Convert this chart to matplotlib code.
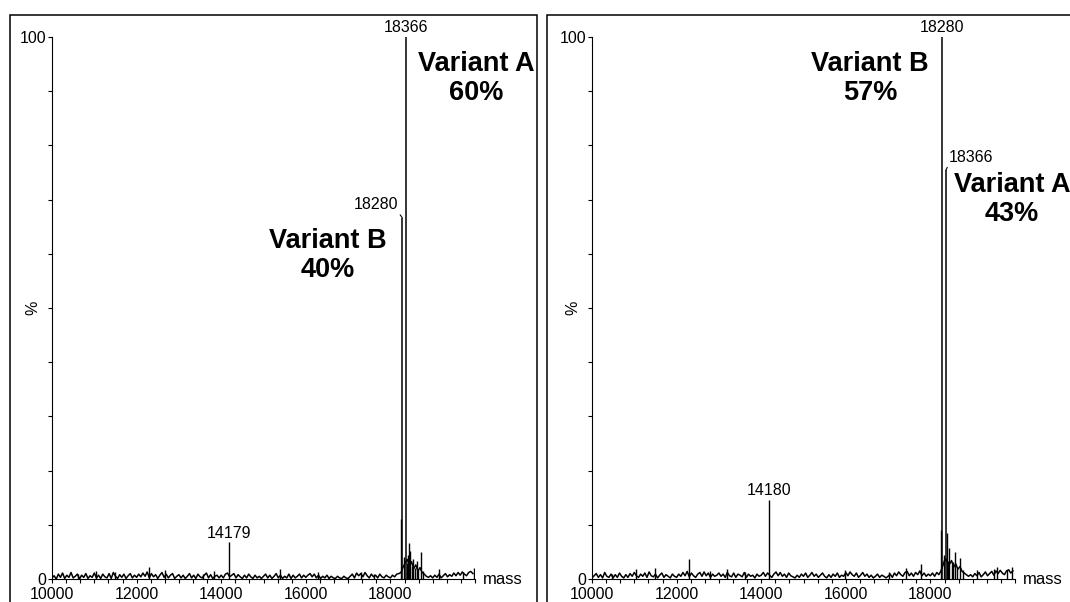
"""
Deconvoluted ESI-MS spectra of the two protein variant mixtures
"""

import matplotlib
matplotlib.use('Agg')
import matplotlib.pyplot as plt
import numpy as np
from matplotlib.patches import Rectangle
from matplotlib.ticker import MultipleLocator

plt.rcParams['font.family'] = ['Liberation Sans', 'DejaVu Sans']

# ---------------------------------------------------------------------------
# Data
# ---------------------------------------------------------------------------
mass_start, mass_step = 10000, 50          # baseline sampling (Da)

left_noise = [
    0.2, 0.6, 0.0, 0.9, 0.3, 1.1, 0.1, 0.7, 0.3, 1.2, 0.2, 0.5, 0.9, 0.0, 0.7, 0.3, 1.0, 0.1, 0.6, 0.3,
    1.1, 0.2, 0.7, 0.1, 0.9, 0.4, 0.2, 1.0, 0.1, 1.2, 0.5, 0.1, 0.8, 0.3, 0.9, 0.1, 0.6, 1.0, 0.2, 0.7,
    0.3, 0.9, 0.4, 1.1, 0.5, 1.3, 0.2, 1.0, 0.4, 0.8, 0.1, 0.7, 1.2, 0.3, 0.9, 0.2, 0.7, 1.0, 0.1, 0.5,
    0.8, 0.2, 0.7, 0.1, 0.5, 1.0, 0.2, 0.7, 0.1, 0.9, 0.4, 0.2, 0.7, 1.1, 0.2, 0.8, 0.1, 0.5, 0.7, 0.2,
    0.7, 0.2, 0.9, 1.1, 0.4, 0.7, 1.0, 0.2, 0.8, 0.4, 0.1, 0.7, 0.2, 0.9, 0.4, 0.1, 0.7, 0.2, 0.5, 0.1,
    0.5, 0.9, 0.2, 0.7, 0.1, 0.5, 1.0, 0.2, 0.7, 0.1, 0.5, 0.2, 0.9, 0.1, 0.7, 0.2, 0.5, 0.9, 0.2, 0.7,
    0.3, 0.7, 1.0, 0.4, 0.9, 0.2, 0.7, 0.1, 0.5, 0.2, 0.7, 0.1, 0.5, 0.2, 0.1, 0.5, 0.2, 0.1, 0.5, 0.2,
    0.1, 0.5, 0.9, 0.2, 1.1, 0.6, 1.0, 0.4, 1.2, 0.6, 0.2, 0.9, 0.4, 0.7, 0.2, 0.9, 0.4, 0.2, 0.7, 0.4,
    0.2, 0.7, 0.4, 0.9, 1.0, 1.2, 2.2, 3.0, 3.6, 2.4, 3.2, 1.9, 2.6, 1.5, 2.1, 1.2, 0.9, 0.5, 0.3, 0.6,
    0.2, 0.7, 0.3, 0.9, 0.2, 0.6, 1.0, 0.4, 0.8, 0.5, 1.1, 0.6, 1.2, 0.7, 1.3, 0.9, 0.6, 1.2, 1.4, 1.0,
]
right_noise = [
    0.2, 0.6, 1.0, 0.3, 0.8, 0.2, 1.2, 0.5, 0.3, 0.9, 0.2, 0.8, 0.3, 1.1, 0.5, 0.2, 0.8, 0.3, 1.0, 0.5,
    1.2, 0.6, 0.3, 0.9, 0.5, 1.1, 0.3, 1.3, 0.6, 0.4, 0.9, 0.2, 0.7, 1.1, 0.3, 0.8, 0.5, 0.2, 0.9, 0.5,
    0.3, 0.9, 0.5, 1.2, 0.6, 1.4, 0.4, 1.1, 0.6, 0.3, 0.9, 1.2, 0.5, 1.3, 0.6, 1.1, 0.3, 0.9, 0.5, 0.7,
    1.1, 0.5, 0.9, 0.3, 1.2, 0.6, 0.4, 1.1, 0.3, 0.9, 0.7, 0.4, 1.2, 0.3, 0.9, 0.5, 0.7, 0.2, 0.9, 0.5,
    0.7, 1.2, 0.5, 1.1, 0.7, 0.3, 0.9, 1.3, 0.6, 1.2, 0.5, 0.9, 0.3, 1.1, 0.6, 0.4, 0.2, 0.7, 0.3, 0.9,
    0.5, 1.1, 0.3, 0.7, 1.2, 0.5, 0.9, 0.3, 0.7, 1.1, 0.5, 0.2, 0.8, 0.3, 0.9, 0.5, 1.1, 0.3, 0.7, 0.5,
    1.2, 0.6, 1.3, 0.8, 0.5, 1.1, 0.3, 0.7, 1.2, 0.5, 0.9, 0.3, 0.7, 0.2, 0.5, 0.9, 0.3, 0.7, 0.5, 0.2,
    0.5, 0.9, 0.3, 1.1, 0.6, 1.3, 0.8, 0.5, 1.2, 1.4, 0.6, 1.1, 0.5, 1.2, 0.8, 1.5, 0.6, 1.1, 0.5, 0.9,
    0.6, 1.1, 0.5, 1.2, 0.8, 1.5, 2.6, 3.8, 3.1, 2.7, 3.4, 2.2, 2.8, 1.8, 2.3, 1.4, 1.1, 0.8, 0.5, 0.8,
    0.4, 1.0, 0.6, 1.2, 0.4, 0.8, 1.3, 0.6, 1.0, 1.4, 0.7, 1.5, 1.0, 1.6, 1.1, 0.8, 1.5, 1.7, 1.1, 1.5,
]

# isolated spikes on top of the baseline
left_spike_mass = [10620, 11030, 11490, 12290, 12670, 13580, 13840, 15380, 16290, 17300,
                   17620, 18250, 18320, 18400, 18420, 18440, 18470, 18500, 18540, 18580,
                   18620, 18660, 18715, 18780, 19150, 19720, 19975]
left_spike_int = [0.9, 1.4, 1.2, 2.3, 1.6, 0.9, 1.4, 1.8, 1.2, 1.3,
                  1.0, 11.0, 4.0, 3.0, 4.4, 6.6, 5.2, 2.4, 3.7, 2.0,
                  3.3, 1.8, 5.0, 1.5, 1.9, 1.2, 2.0]
right_spike_mass = [10480, 11040, 11490, 12300, 12780, 13200, 13620, 15980, 17020, 17430,
                    17770, 18240, 18320, 18400, 18420, 18450, 18500, 18540, 18580, 18640,
                    18700, 18760, 19090, 19500, 19565, 19820, 19920]
right_spike_int = [1.0, 1.9, 2.1, 3.6, 1.4, 1.8, 1.2, 1.6, 1.3, 2.1,
                   2.7, 9.0, 4.5, 8.5, 3.4, 5.7, 2.8, 3.2, 5.0, 2.1,
                   3.8, 1.7, 1.6, 1.9, 2.3, 1.6, 2.3]

# labelled peaks
left_minor_mass, left_minor_int = 14179, 6.8
right_minor_mass, right_minor_int = 14180, 14.6
variant_a_mass, variant_b_mass = 18366, 18280
left_share = {'A': 60, 'B': 40}
right_share = {'A': 43, 'B': 57}

x_ticks = [10000, 12000, 14000, 16000, 18000]

# ---------------------------------------------------------------------------
fig = plt.figure(figsize=(10.70, 6.02), dpi=100)
W, H = 1070, 602

# panel frames
fig.add_artist(Rectangle((10 / W, -0.1), 527 / W, 1.1 - 15 / H,
                         transform=fig.transFigure, fill=False, lw=1.1, color='black'))
fig.add_artist(Rectangle((547 / W, -0.1), 540 / W, 1.1 - 15 / H,
                         transform=fig.transFigure, fill=False, lw=1.1, color='black'))


def draw_spectrum(ax, noise, spike_mass, spike_int, minor_mass, minor_int, share):
    noise_mass = mass_start + mass_step * np.arange(len(noise))
    ax.plot(noise_mass, noise, color='black', lw=1.1)
    ax.vlines(spike_mass, 0, spike_int, color='black', lw=1.0)

    # peak heights follow the relative abundance of the two variants
    top = max(share.values())
    h_a = share['A'] / top * 100
    h_b = share['B'] / top * 100
    ax.vlines([variant_b_mass, variant_a_mass], 0, [h_b, h_a], color='black', lw=1.1)
    ax.vlines(minor_mass, 0, minor_int, color='black', lw=1.0)

    ax.set_xlim(10000, 20000)
    ax.set_ylim(0, 100)
    for s in ['top', 'right']:
        ax.spines[s].set_visible(False)
    ax.spines['left'].set_linewidth(0.8)
    ax.spines['bottom'].set_linewidth(0.8)

    ax.set_xticks(x_ticks)
    ax.set_xticklabels([str(t) for t in x_ticks])
    ax.xaxis.set_minor_locator(MultipleLocator(2000 / 6))
    ax.set_yticks(range(0, 101, 10))
    ax.set_yticklabels(['0'] + [''] * 9 + ['100'])
    ax.tick_params(axis='both', which='both', direction='out', length=3,
                   width=0.8, labelsize=11.5)
    ax.tick_params(axis='x', pad=3)
    ax.tick_params(axis='y', pad=1)

    ax.text(-0.045, 0.5, '%', transform=ax.transAxes, rotation=90,
            ha='center', va='center', fontsize=11.5)
    ax.text(1.018, 0.0, 'mass', transform=ax.transAxes,
            ha='left', va='center', fontsize=12)

    ax.annotate(str(minor_mass), xy=(minor_mass, minor_int), xytext=(0, 1),
                textcoords='offset points', ha='center', va='bottom', fontsize=11.5)
    return h_a, h_b


# left: variant A dominant
ax1 = fig.add_axes([52 / W, 23 / H, 423 / W, 542 / H])
h_a, h_b = draw_spectrum(ax1, left_noise, left_spike_mass, left_spike_int,
                         left_minor_mass, left_minor_int, left_share)
ax1.annotate(str(variant_a_mass), xy=(variant_a_mass, h_a), xytext=(0, 1.5),
             textcoords='offset points', ha='center', va='bottom', fontsize=11.5,
             annotation_clip=False)
ax1.annotate(str(variant_b_mass), xy=(variant_b_mass, h_b), xytext=(-3, 4),
             textcoords='offset points', ha='right', va='bottom', fontsize=11.5,
             arrowprops=dict(arrowstyle='-', lw=0.8, shrinkA=0, shrinkB=0,
                             relpos=(1, 0)))
ax1.text(20020, 92.3, f"Variant A\n{left_share['A']}%", ha='center', va='center',
         fontsize=19.5, fontweight='bold', linespacing=1.15, clip_on=False)
ax1.text(16523, 59.6, f"Variant B\n{left_share['B']}%", ha='center', va='center',
         fontsize=19.5, fontweight='bold', linespacing=1.15, clip_on=False)

# right: variant B dominant
ax2 = fig.add_axes([592 / W, 23 / H, 423 / W, 542 / H])
h_a, h_b = draw_spectrum(ax2, right_noise, right_spike_mass, right_spike_int,
                         right_minor_mass, right_minor_int, right_share)
ax2.annotate(str(variant_b_mass), xy=(variant_b_mass, h_b), xytext=(0, 1.5),
             textcoords='offset points', ha='center', va='bottom', fontsize=11.5,
             annotation_clip=False)
ax2.annotate(str(variant_a_mass), xy=(variant_a_mass, h_a), xytext=(2, 4),
             textcoords='offset points', ha='left', va='bottom', fontsize=11.5,
             arrowprops=dict(arrowstyle='-', lw=0.8, shrinkA=0, shrinkB=0,
                             relpos=(0, 0)))
ax2.text(16571, 92.3, f"Variant B\n{right_share['B']}%", ha='center', va='center',
         fontsize=19.5, fontweight='bold', linespacing=1.15, clip_on=False)
ax2.text(19927, 70.1, f"Variant A\n{right_share['A']}%", ha='center', va='center',
         fontsize=19.5, fontweight='bold', linespacing=1.15, clip_on=False)

fig.savefig('out.png', dpi=100)
